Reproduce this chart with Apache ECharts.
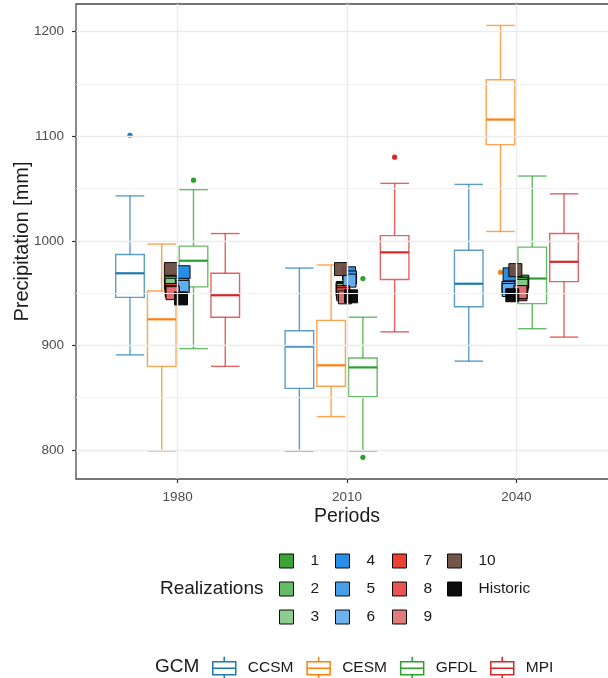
<!DOCTYPE html>
<html>
<head>
<meta charset="utf-8">
<script src="https://cdn.jsdelivr.net/npm/echarts@6/dist/echarts.min.js"></script>
<style>
  html, body { margin: 0; padding: 0; background: #ffffff; }
  #chart { width: 608px; height: 678px; }
</style>
</head>
<body>
<div id="chart"></div>
<script>
// ---- data ----
const periods = ['1980', '2010', '2040'];
const gcms = ['CCSM', 'CESM', 'GFDL', 'MPI'];

// five-number summaries per period: [lower whisker, Q1, median, Q3, upper whisker]
const ccsmStats = [[891, 946, 969, 987, 1043], [799, 859, 899, 914, 974], [885, 937, 959, 991, 1054]];
const cesmStats = [[799, 880, 925, 952, 997], [832, 861, 881, 924, 977], [1009, 1092, 1116, 1154, 1206]];
const gfdlStats = [[897, 956, 981, 995, 1049], [799, 851, 879, 888, 927], [916, 940, 964, 994, 1062]];
const mpiStats  = [[880, 927, 948, 969, 1007], [913, 963, 989, 1005, 1055], [908, 961, 980, 1007, 1045]];

// outlying years per period
const ccsmOutliers = [[1101], [], []];
const cesmOutliers = [[], [], [970]];
const gfdlOutliers = [[1058], [964, 793], []];
const mpiOutliers  = [[], [1080], []];

// realization means per period (order: 1..10, Historic)
const realizations = ['1', '2', '3', '4', '5', '6', '7', '8', '9', '10', 'Historic'];
const real1980 = [962, 960, 958, 970, 958, 956, 953, 951, 950, 973, 945];
const real2010 = [955, 954, 953, 969, 965, 962, 951, 949, 946, 973, 947];
const real2040 = [961, 959, 957, 968, 955, 953, 949, 951, 951, 972, 948];
// horizontal jitter of the realization points (in period units)
const jitter1980 = [-0.035, -0.04, -0.035, 0.035, 0.025, 0.03, -0.035, -0.03, -0.03, -0.04, 0.02];
const jitter2010 = [-0.024, -0.026, -0.024, 0.012, 0.018, 0.015, -0.024, -0.022, -0.012, -0.035, 0.024];
const jitter2040 = [0.035, 0.03, 0.03, -0.04, -0.047, -0.045, 0.024, 0.024, 0.024, -0.006, -0.024];

const yTicks = [800, 900, 1000, 1100, 1200];
const yMinor = [850, 950, 1050, 1150];

// ---- styling ----
const FONT = '"Liberation Sans", Arial, Helvetica, sans-serif';
const gcmColors = ['#1f77b4', '#ff7f0e', '#2ca02c', '#d62728'];
const realColors = ['#33a02c', '#5cb85c', '#86c986', '#1e88e5', '#3d9ae8', '#64aeee',
                    '#ee3526', '#e84a4a', '#e07474', '#6d4c41', '#000000'];

const DODGE = 0.75;
const NG = gcms.length;
const BOX_HALF = DODGE / NG * 0.9 / 2;
const dodgeOffset = gi => (gi - (NG - 1) / 2) * DODGE / NG;

const allStats = [ccsmStats, cesmStats, gfdlStats, mpiStats];
const allOutliers = [ccsmOutliers, cesmOutliers, gfdlOutliers, mpiOutliers];
const realByPeriod = [real1980, real2010, real2040];
const jitterByPeriod = [jitter1980, jitter2010, jitter2040];

function boxRenderer(gi) {
  const color = gcmColors[gi];
  return function (params, api) {
    const x = api.value(0) + dodgeOffset(gi);
    const lo = api.value(1), q1 = api.value(2), md = api.value(3), q3 = api.value(4), hi = api.value(5);
    const tl = api.coord([x - BOX_HALF, q3]);
    const br = api.coord([x + BOX_HALF, q1]);
    const top = api.coord([x, hi]);
    const bot = api.coord([x, lo]);
    const med = api.coord([x, md]);
    const thin = { stroke: color, lineWidth: 1.4, opacity: 0.72 };
    const kids = [
      { type: 'line', shape: { x1: top[0], y1: top[1], x2: top[0], y2: tl[1] }, style: thin },
      { type: 'line', shape: { x1: bot[0], y1: br[1], x2: bot[0], y2: bot[1] }, style: thin },
      { type: 'line', shape: { x1: tl[0], y1: top[1], x2: br[0], y2: top[1] }, style: thin },
      { type: 'line', shape: { x1: tl[0], y1: bot[1], x2: br[0], y2: bot[1] }, style: thin },
      { type: 'rect', shape: { x: tl[0], y: tl[1], width: br[0] - tl[0], height: br[1] - tl[1] },
        style: { fill: '#ffffff', stroke: color, lineWidth: 1.4, strokeOpacity: 0.72 } },
      { type: 'line', shape: { x1: tl[0], y1: med[1], x2: br[0], y2: med[1] },
        style: { stroke: color, lineWidth: 2.2 } }
    ];
    const outs = allOutliers[gi][params.dataIndex] || [];
    outs.forEach(v => {
      const p = api.coord([x, v]);
      kids.push({ type: 'circle', shape: { cx: p[0], cy: p[1], r: 2.6 }, style: { fill: color } });
    });
    return { type: 'group', children: kids };
  };
}

const boxSeries = gcms.map((name, gi) => ({
  name: name,
  type: 'custom',
  renderItem: boxRenderer(gi),
  encode: { x: 0, y: [1, 2, 3, 4, 5] },
  itemStyle: { color: gcmColors[gi] },
  data: allStats[gi].map((s, pi) => [pi + 1].concat(s)),
  z: 3
}));

const pointSeries = realizations.map((name, ri) => ({
  name: name,
  type: 'scatter',
  symbol: 'rect',
  symbolSize: 13,
  itemStyle: { color: realColors[ri], borderColor: '#000000', borderWidth: 1, opacity: 0.95 },
  emphasis: { disabled: true },
  data: periods.map((p, pi) => [pi + 1 + jitterByPeriod[pi][ri], realByPeriod[pi][ri]]),
  z: 4
}));

const gridLineSeries = {
  name: 'gridlines',
  type: 'line',
  data: [],
  silent: true,
  z: 1,
  markLine: {
    silent: true,
    symbol: ['none', 'none'],
    label: { show: false },
    animation: false,
    data: [].concat(
      yMinor.map(v => ({ yAxis: v, lineStyle: { color: '#f3f3f3', width: 1, type: 'solid' } })),
      yTicks.map(v => ({ yAxis: v, lineStyle: { color: '#ebebeb', width: 1.4, type: 'solid' } })),
      periods.map((p, pi) => ({ xAxis: pi + 1, lineStyle: { color: '#ebebeb', width: 1.4, type: 'solid' } }))
    )
  }
};

const boxIcon = 'path://M11.5,0L11.5,5M0,5L23,5L23,18L0,18ZM0,11.5L23,11.5M11.5,18L11.5,22';

const realColumns = [['1', '2', '3'], ['4', '5', '6'], ['7', '8', '9'], ['10', 'Historic']];
const realColumnLeft = [279, 335, 392, 447];

const realLegends = realColumns.map((col, ci) => ({
  orient: 'vertical',
  left: realColumnLeft[ci],
  top: 553,
  padding: 0,
  itemWidth: 14,
  itemHeight: 14,
  itemGap: 12,
  icon: 'rect',
  selectedMode: false,
  itemStyle: { borderColor: '#000000', borderWidth: 1 },
  textStyle: { fontFamily: FONT, fontSize: 15.5, color: '#1a1a1a', padding: [0, 0, 0, 12] },
  data: col
}));

const gcmLegend = {
  orient: 'horizontal',
  left: 212,
  top: 656,
  padding: 0,
  itemWidth: 23,
  itemHeight: 22,
  itemGap: 13,
  selectedMode: false,
  textStyle: { fontFamily: FONT, fontSize: 15.5, color: '#1a1a1a', padding: [0, 0, 0, 7] },
  data: gcms.map((g, gi) => ({
    name: g,
    icon: boxIcon,
    itemStyle: { color: 'rgba(0,0,0,0)', borderColor: gcmColors[gi], borderWidth: 1.5 }
  }))
};

const chart = echarts.init(document.getElementById('chart'), null, { renderer: 'canvas' });
chart.setOption({
  animation: false,
  backgroundColor: '#ffffff',
  textStyle: { fontFamily: FONT },
  title: [
    { text: 'Realizations', left: 160, top: 579, padding: 0,
      textStyle: { fontFamily: FONT, fontSize: 19, fontWeight: 'normal', color: '#1a1a1a' } },
    { text: 'GCM', left: 155, top: 657, padding: 0,
      textStyle: { fontFamily: FONT, fontSize: 19, fontWeight: 'normal', color: '#1a1a1a' } }
  ],
  grid: {
    left: 76, top: 4, right: -10, bottom: 199,
    show: true, borderColor: '#4a4a4a', borderWidth: 1.3, backgroundColor: 'transparent',
    containLabel: false, outerBoundsMode: 'none'
  },
  xAxis: {
    type: 'value',
    min: 0.4, max: 3.6,
    name: 'Periods',
    nameLocation: 'middle',
    nameGap: 28,
    nameMoveOverlap: false,
    nameTextStyle: { fontFamily: FONT, fontSize: 19.5, color: '#1a1a1a' },
    axisLine: { show: false },
    axisTick: { show: true, length: 4, customValues: [1, 2, 3], lineStyle: { color: '#333333', width: 1.2 } },
    axisLabel: {
      customValues: [1, 2, 3], margin: 11, fontSize: 13.5, color: '#4d4d4d', fontFamily: FONT,
      formatter: v => periods[Math.round(v) - 1]
    },
    splitLine: { show: false }
  },
  yAxis: {
    type: 'value',
    min: 772.3, max: 1226.5,
    name: 'Precipitation [mm]',
    nameLocation: 'middle',
    nameGap: 44,
    nameMoveOverlap: false,
    nameTextStyle: { fontFamily: FONT, fontSize: 20, color: '#1a1a1a' },
    axisLine: { show: false },
    axisTick: { show: true, length: 4, customValues: yTicks, lineStyle: { color: '#333333', width: 1.2 } },
    axisLabel: {
      customValues: yTicks, margin: 12, fontSize: 13.5, color: '#4d4d4d', fontFamily: FONT,
      formatter: v => String(v)
    },
    splitLine: { show: false }
  },
  legend: realLegends.concat([gcmLegend]),
  series: [gridLineSeries].concat(boxSeries, pointSeries)
});
</script>
</body>
</html>
